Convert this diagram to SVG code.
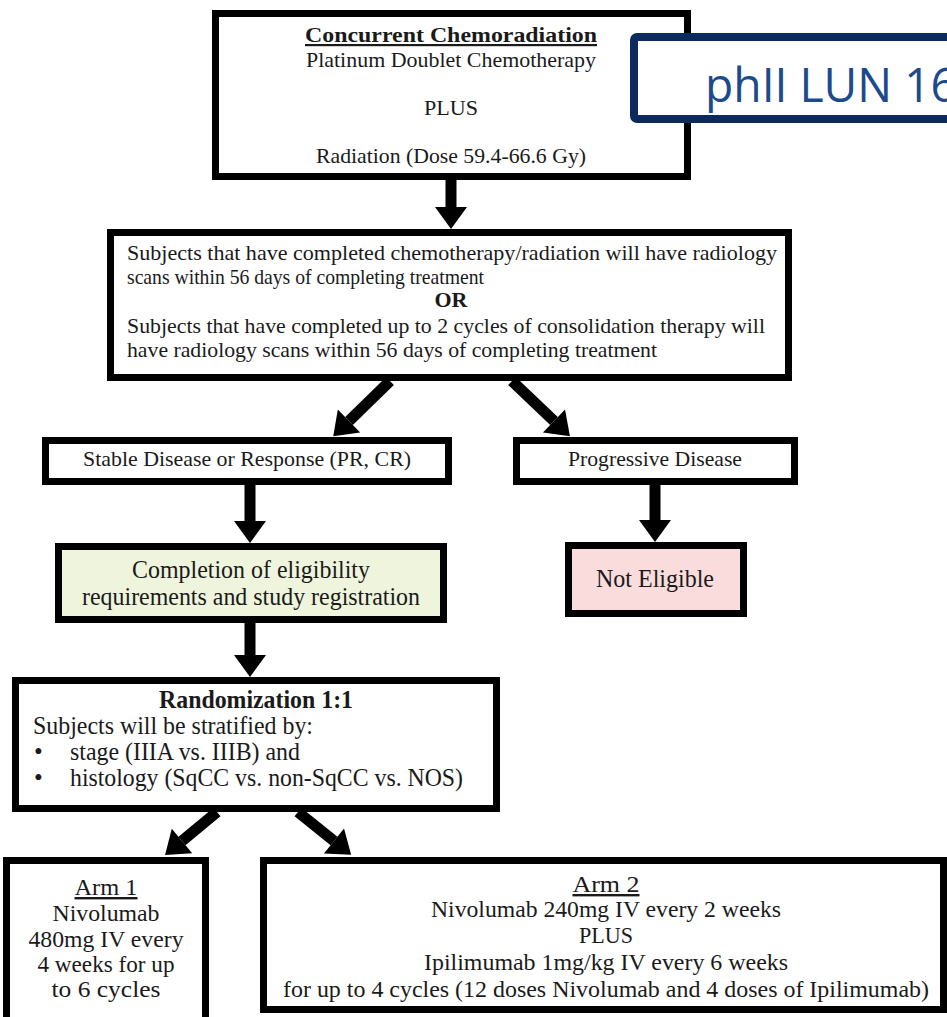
<svg xmlns="http://www.w3.org/2000/svg" width="947" height="1017" viewBox="0 0 947 1017">
<defs>
<marker id="ah" markerUnits="userSpaceOnUse" markerWidth="32" markerHeight="32" refX="0" refY="16" orient="auto" viewBox="0 0 22 32">
<path d="M0,0 L22,16 L0,32 Z" fill="#000"/>
</marker>
</defs>
<style>
.box{fill:#fff;stroke:#000;stroke-width:7}
.t{font-family:"Liberation Serif","Times New Roman",serif;font-size:22px;fill:#1a1a1a}
.m{font-size:25px}
.a{font-size:24px}
.c{text-anchor:middle}
.b{font-weight:bold}
.u{text-decoration:underline}
.arr{stroke:#000;stroke-width:11;fill:none;marker-end:url(#ah)}
</style>
<rect width="947" height="1017" fill="#fff"/>

<g id="connectors">
<line class="arr" x1="451" y1="180" x2="451" y2="207"/>
<line class="arr" x1="390" y1="381" x2="349" y2="421"/>
<line class="arr" x1="512" y1="381" x2="554" y2="421"/>
<line class="arr" x1="250" y1="484" x2="250" y2="521"/>
<line class="arr" x1="655" y1="484" x2="655" y2="520"/>
<line class="arr" x1="250" y1="623" x2="250" y2="655"/>
<line class="arr" x1="217" y1="812" x2="182" y2="841"/>
<line class="arr" x1="298" y1="812" x2="334" y2="841"/>
</g>

<g id="node-chemoradiation">
<rect class="box" x="215.5" y="13.5" width="472" height="163"/>
<text class="t c b u" x="451" y="42" font-size="26" textLength="292" lengthAdjust="spacingAndGlyphs">Concurrent Chemoradiation</text>
<text class="t c" x="451" y="67" textLength="290" lengthAdjust="spacingAndGlyphs">Platinum Doublet Chemotherapy</text>
<text class="t c" x="451" y="115" textLength="54" lengthAdjust="spacingAndGlyphs">PLUS</text>
<text class="t c" x="451" y="163" textLength="270" lengthAdjust="spacingAndGlyphs">Radiation (Dose 59.4-66.6 Gy)</text>
</g>

<g id="node-label">
<rect x="634" y="37" width="330" height="82" fill="#fff" stroke="#0d2a5e" stroke-width="8" rx="3"/>
<text x="705" y="102" font-family="'Open Sans','Noto Sans',sans-serif" font-size="47" fill="#1c4a8a" textLength="252" lengthAdjust="spacingAndGlyphs">phII LUN 16</text>
</g>

<g id="node-scans">
<rect class="box" x="110.5" y="232.5" width="678" height="145"/>
<text class="t" x="127" y="260" textLength="650" lengthAdjust="spacingAndGlyphs">Subjects that have completed chemotherapy/radiation will have radiology</text>
<text class="t" x="127" y="284" textLength="357" lengthAdjust="spacingAndGlyphs">scans within 56 days of completing treatment</text>
<text class="t c b" x="451" y="307">OR</text>
<text class="t" x="127" y="333" textLength="638" lengthAdjust="spacingAndGlyphs">Subjects that have completed up to 2 cycles of consolidation therapy will</text>
<text class="t" x="127" y="357" textLength="530" lengthAdjust="spacingAndGlyphs">have radiology scans within 56 days of completing treatment</text>
</g>

<g id="node-stable">
<rect class="box" x="45.5" y="440.5" width="403" height="41"/>
<text class="t c" x="247" y="466" textLength="328" lengthAdjust="spacingAndGlyphs">Stable Disease or Response (PR, CR)</text>
</g>

<g id="node-progressive">
<rect class="box" x="516.5" y="440.5" width="278" height="41"/>
<text class="t c" x="655" y="466" textLength="174" lengthAdjust="spacingAndGlyphs">Progressive Disease</text>
</g>

<g id="node-eligibility">
<rect class="box" x="58.5" y="546.5" width="385" height="73" style="fill:#eef5dc"/>
<text class="t m c" x="251" y="578" textLength="238" lengthAdjust="spacingAndGlyphs">Completion of eligibility</text>
<text class="t m c" x="251" y="605" textLength="338" lengthAdjust="spacingAndGlyphs">requirements and study registration</text>
</g>

<g id="node-not-eligible">
<rect class="box" x="568.5" y="545.5" width="175" height="68" style="fill:#fadcdc"/>
<text class="t m c" x="655" y="587" textLength="118" lengthAdjust="spacingAndGlyphs">Not Eligible</text>
</g>

<g id="node-randomization">
<rect class="box" x="15.5" y="680.5" width="481" height="128"/>
<text class="t m c b" x="256" y="708" textLength="194" lengthAdjust="spacingAndGlyphs">Randomization 1:1</text>
<text class="t m" x="33" y="734" textLength="280" lengthAdjust="spacingAndGlyphs">Subjects will be stratified by:</text>
<text class="t m" x="34" y="760">•</text>
<text class="t m" x="70" y="760" textLength="230" lengthAdjust="spacingAndGlyphs">stage (IIIA vs. IIIB) and</text>
<text class="t m" x="34" y="786">•</text>
<text class="t m" x="70" y="786" textLength="393" lengthAdjust="spacingAndGlyphs">histology (SqCC vs. non-SqCC vs. NOS)</text>
</g>

<g id="node-arm1">
<rect class="box" x="6.5" y="860.5" width="199" height="170"/>
<text class="t a c u" x="106" y="895" textLength="63" lengthAdjust="spacingAndGlyphs">Arm 1</text>
<text class="t a c" x="106" y="921" textLength="107" lengthAdjust="spacingAndGlyphs">Nivolumab</text>
<text class="t a c" x="106" y="947" textLength="155" lengthAdjust="spacingAndGlyphs">480mg IV every</text>
<text class="t a c" x="106" y="972" textLength="137" lengthAdjust="spacingAndGlyphs">4 weeks for up</text>
<text class="t a c" x="106" y="997" textLength="109" lengthAdjust="spacingAndGlyphs">to 6 cycles</text>
</g>

<g id="node-arm2">
<rect class="box" x="263.5" y="860.5" width="680" height="149"/>
<text class="t a c u" x="606" y="892" textLength="67" lengthAdjust="spacingAndGlyphs">Arm 2</text>
<text class="t a c" x="606" y="917" textLength="350" lengthAdjust="spacingAndGlyphs">Nivolumab 240mg IV every 2 weeks</text>
<text class="t a c" x="606" y="943" textLength="54" lengthAdjust="spacingAndGlyphs">PLUS</text>
<text class="t a c" x="606" y="970" textLength="364" lengthAdjust="spacingAndGlyphs">Ipilimumab 1mg/kg IV every 6 weeks</text>
<text class="t a c" x="606" y="997" textLength="646" lengthAdjust="spacingAndGlyphs">for up to 4 cycles (12 doses Nivolumab and 4 doses of Ipilimumab)</text>
</g>
</svg>
